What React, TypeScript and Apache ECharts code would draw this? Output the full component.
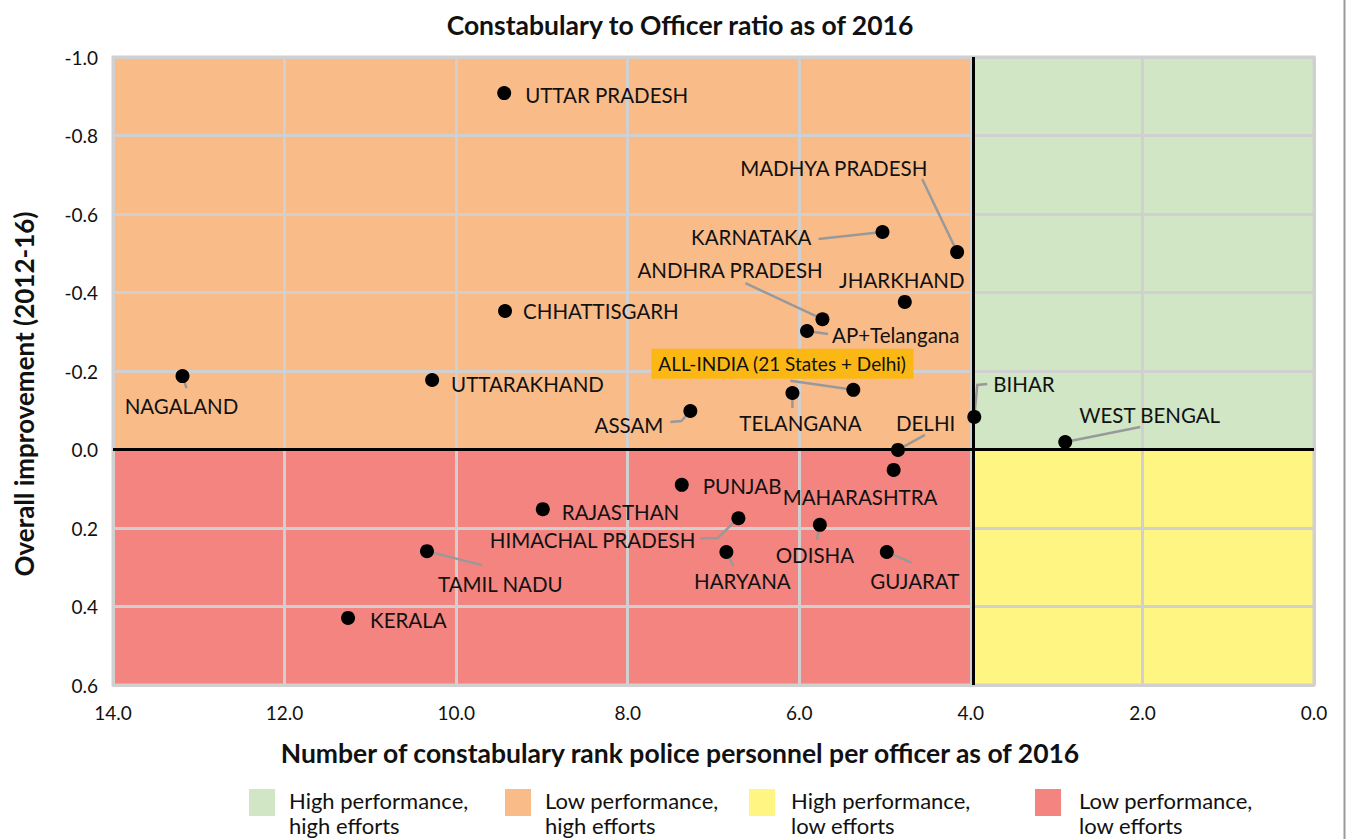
import React, { useEffect, useRef } from "react";
import * as echarts from "echarts";

// ---------- data ----------
const STATES = [
  "UTTAR PRADESH", "MADHYA PRADESH", "KARNATAKA", "JHARKHAND", "ANDHRA PRADESH",
  "AP+Telangana", "CHHATTISGARH", "NAGALAND", "UTTARAKHAND", "ALL-INDIA (21 States + Delhi)",
  "TELANGANA", "ASSAM", "BIHAR", "WEST BENGAL", "DELHI", "MAHARASHTRA", "PUNJAB",
  "RAJASTHAN", "HIMACHAL PRADESH", "ODISHA", "TAMIL NADU", "HARYANA", "GUJARAT", "KERALA",
];
// Number of constabulary rank police personnel per officer (2016)
const RATIO = [
  9.44, 4.16, 5.03, 4.77, 5.73,
  5.91, 9.43, 13.19, 10.28, 5.37,
  6.08, 7.27, 3.96, 2.90, 4.85, 4.90, 7.37,
  8.99, 6.71, 5.76, 10.34, 6.85, 4.98, 11.26,
];
// Overall improvement (2012-16)
const IMPROVEMENT = [
  -0.908, -0.503, -0.554, -0.376, -0.332,
  -0.302, -0.353, -0.187, -0.177, -0.152,
  -0.144, -0.098, -0.083, -0.019, 0.001, 0.052, 0.090,
  0.152, 0.175, 0.192, 0.259, 0.261, 0.261, 0.429,
];
const X_TICKS = [0, 2, 4, 6, 8, 10, 12, 14];
const Y_TICKS = [-1.0, -0.8, -0.6, -0.4, -0.2, 0.0, 0.2, 0.4, 0.6];
const THRESHOLD_X = 3.97;
const THRESHOLD_Y = 0;
const LEGEND_LABELS = [
  "High performance,\nhigh efforts",
  "Low performance,\nhigh efforts",
  "High performance,\nlow efforts",
  "Low performance,\nlow efforts",
];

// ---------- layout / styles ----------
const QUAD_COLORS = ["#D0E6C5", "#F9BC89", "#FFF582", "#F4847F"];
const QUADRANTS = [
  { x: [THRESHOLD_X, 0], y: [-1, THRESHOLD_Y] },
  { x: [14, THRESHOLD_X], y: [-1, THRESHOLD_Y] },
  { x: [THRESHOLD_X, 0], y: [THRESHOLD_Y, 0.6] },
  { x: [14, THRESHOLD_X], y: [THRESHOLD_Y, 0.6] },
];

type LL = { dx: number; dy: number; align: "left" | "right" | "center"; line?: number[][]; box?: boolean };
const LABEL_LAYOUT: Record<string, LL> = {
  "UTTAR PRADESH": { dx: 21, dy: 2, align: "left" },
  "MADHYA PRADESH": { dx: -217, dy: -84, align: "left", line: [[-35, -73]] },
  "KARNATAKA": { dx: -71, dy: 5, align: "right", line: [[-64, 7]] },
  "JHARKHAND": { dx: -3, dy: -22, align: "center" },
  "ANDHRA PRADESH": { dx: -185, dy: -49, align: "left", line: [[-77, -36]] },
  "AP+Telangana": { dx: 25, dy: 4, align: "left", line: [[21, 3]] },
  "CHHATTISGARH": { dx: 18, dy: 0, align: "left" },
  "NAGALAND": { dx: -1, dy: 30, align: "center", line: [[4, 12]] },
  "UTTARAKHAND": { dx: 19, dy: 4, align: "left" },
  "ALL-INDIA (21 States + Delhi)": { dx: -202, dy: -26, align: "left", line: [[-63, -9]], box: true },
  "TELANGANA": { dx: 8, dy: 30, align: "center", line: [[0, 15]] },
  "ASSAM": { dx: -27, dy: 14, align: "right", line: [[-9, 10], [-20, 11]] },
  "BIHAR": { dx: 19, dy: -33, align: "left", line: [[3, -32], [13, -33]] },
  "WEST BENGAL": { dx: 14, dy: -27, align: "left", line: [[75, -15]] },
  "DELHI": { dx: -2, dy: -27, align: "left", line: [[27, -15]] },
  "MAHARASHTRA": { dx: -111, dy: 27, align: "left" },
  "PUNJAB": { dx: 21, dy: 1, align: "left" },
  "RAJASTHAN": { dx: 19, dy: 3, align: "left" },
  "HIMACHAL PRADESH": { dx: -43, dy: 22, align: "right", line: [[-21, 20], [-38, 20]] },
  "ODISHA": { dx: -5, dy: 30, align: "center", line: [[-3, 15]] },
  "TAMIL NADU": { dx: 11, dy: 33, align: "left", line: [[55, 14]] },
  "HARYANA": { dx: 16, dy: 29, align: "center", line: [[7, 14]] },
  "GUJARAT": { dx: 28, dy: 29, align: "center", line: [[25, 11]] },
  "KERALA": { dx: 22, dy: 2, align: "left" },
};

const FONT = "Lato, 'Noto Sans', sans-serif";
const LEG_RECT_X = [249, 505, 749, 1035];
const LEG_TEXT_X = [289, 545, 791, 1079];

export default function App() {
  const ref = useRef<HTMLDivElement>(null);

  useEffect(() => {
    if (!ref.current) return;
    const chart = echarts.init(ref.current, undefined, { renderer: "svg" });

    const points = STATES.map((s, i) => [RATIO[i], IMPROVEMENT[i]]);

    const graphics: any[] = [
      {
        type: "text", x: 680, y: 25,
        style: { text: "Constabulary to Officer ratio as of 2016", font: `bold 26.5px ${FONT}`, fill: "#111", align: "center", verticalAlign: "middle" },
      },
      {
        type: "text", x: 680, y: 753,
        style: { text: "Number of constabulary rank police personnel per officer as of 2016", font: `bold 26.5px ${FONT}`, fill: "#111", align: "center", verticalAlign: "middle" },
      },
      {
        type: "text", x: 24, y: 394, rotation: Math.PI / 2,
        style: { text: "Overall improvement (2012-16)", font: `bold 26px ${FONT}`, fill: "#111", align: "center", verticalAlign: "middle" },
      },
      { type: "line", shape: { x1: 1344.5, y1: 0, x2: 1344.5, y2: 839 }, style: { stroke: "#999", lineWidth: 2 } },
    ];
    LEGEND_LABELS.forEach((t, i) => {
      graphics.push({ type: "rect", shape: { x: LEG_RECT_X[i], y: 789, width: 26, height: 27 }, style: { fill: QUAD_COLORS[i] } });
      graphics.push({
        type: "text", x: LEG_TEXT_X[i], y: 788,
        style: { text: t, font: `22px ${FONT}`, fill: "#111", align: "left", verticalAlign: "top", lineHeight: 25 },
      });
    });

    chart.setOption({
      animation: false,
      backgroundColor: "#fff",
      grid: { left: 113, right: 32, top: 57, bottom: 154, show: true, borderColor: "#d0d0d0", borderWidth: 3 },
      xAxis: {
        type: "value", inverse: true, min: X_TICKS[0], max: X_TICKS[X_TICKS.length - 1], interval: 2,
        axisLine: { show: false }, axisTick: { show: false },
        splitLine: { show: true, lineStyle: { color: "#d0d0d0", width: 3 } },
        axisLabel: { margin: 18, fontSize: 19, fontFamily: FONT, color: "#111", formatter: (v: number) => v.toFixed(1) },
      },
      yAxis: {
        type: "value", inverse: true, min: Y_TICKS[0], max: Y_TICKS[Y_TICKS.length - 1], interval: 0.2,
        axisLine: { show: false }, axisTick: { show: false },
        splitLine: { show: true, lineStyle: { color: "#d0d0d0", width: 3 } },
        axisLabel: { margin: 15, fontSize: 19, fontFamily: FONT, color: "#111", formatter: (v: number) => v.toFixed(1) },
      },
      graphic: graphics,
      series: [
        {
          type: "custom", z: -1, silent: true,
          data: QUADRANTS.map((q, i) => [q.x[0], q.x[1], q.y[0], q.y[1], i]),
          encode: { x: [0, 1], y: [2, 3] },
          renderItem: (params: any, api: any) => {
            const p1 = api.coord([api.value(0), api.value(2)]);
            const p2 = api.coord([api.value(1), api.value(3)]);
            return {
              type: "rect",
              shape: { x: Math.min(p1[0], p2[0]), y: Math.min(p1[1], p2[1]), width: Math.abs(p2[0] - p1[0]), height: Math.abs(p2[1] - p1[1]) },
              style: { fill: QUAD_COLORS[api.value(4)] },
            };
          },
        },
        {
          type: "custom", z: 2, silent: true,
          data: points,
          encode: { x: 0, y: 1 },
          renderItem: (params: any, api: any) => {
            const i = params.dataIndex;
            const name = STATES[i];
            const pt = api.coord([api.value(0), api.value(1)]);
            const L = LABEL_LAYOUT[name];
            const children: any[] = [];
            if (L.line) {
              children.push({
                type: "polyline",
                shape: { points: [[pt[0], pt[1]], ...L.line.map((p) => [pt[0] + p[0], pt[1] + p[1]])] },
                style: { stroke: "#999", lineWidth: 2.5, fill: null },
              });
            }
            const style: any = {
              text: name, fill: "#111", font: `${L.box ? 19 : 20.5}px ${FONT}`,
              align: L.align, verticalAlign: "middle",
            };
            if (L.box) {
              style.backgroundColor = "#FBB814";
              style.padding = [6, 7, 5, 7];
            }
            children.push({ type: "text", x: pt[0] + L.dx, y: pt[1] + L.dy, style });
            return { type: "group", children };
          },
          markLine: {
            silent: true, symbol: "none", label: { show: false },
            lineStyle: { color: "#000", width: 3, type: "solid" },
            data: [{ xAxis: THRESHOLD_X }, { yAxis: THRESHOLD_Y }],
          },
        },
        {
          type: "scatter", z: 3, silent: true,
          data: points, symbolSize: 14,
          itemStyle: { color: "#000", opacity: 1 },
        },
      ],
    });

    return () => chart.dispose();
  }, []);

  return (
    <div
      ref={ref}
      style={{ position: "fixed", left: 0, top: 0, width: 1346, height: 839, background: "#fff" }}
    />
  );
}
